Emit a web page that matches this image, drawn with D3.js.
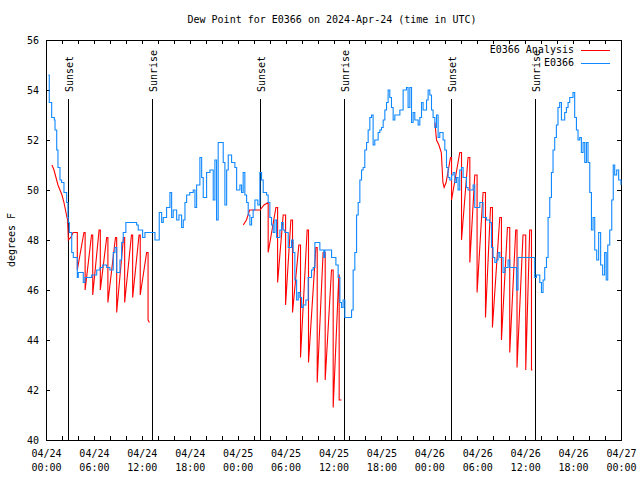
<!DOCTYPE html>
<html><head><meta charset="utf-8">
<script src="https://cdn.jsdelivr.net/npm/d3@7"></script>
<style>
body{margin:0;background:#fff;}
svg{display:block;}
text{font-family:"DejaVu Sans Mono","Liberation Mono",monospace;font-size:10px;fill:#000;}
</style></head>
<body>
<svg id="chart" width="640" height="480"></svg>
<script>
// ---- data (hours since 2024-04-24 00:00 UTC) ----
const titleText = "Dew Point for E0366 on 2024-Apr-24 (time in UTC)";
const yLabel = "degrees F";
const seriesNames = ["E0366 Analysis", "E0366"];
const yTicks = [40,42,44,46,48,50,52,54,56];
const xTickHours = [0,6,12,18,24,30,36,42,48,54,60,66,72];
const xTickDates = ["04/24","04/24","04/24","04/24","04/25","04/25","04/25","04/25","04/26","04/26","04/26","04/26","04/27"];
const xTickTimes = ["00:00","06:00","12:00","18:00","00:00","06:00","12:00","18:00","00:00","06:00","12:00","18:00","00:00"];
const sunHours = [2.78, 13.3, 26.8, 37.3, 50.73, 61.24];
const sunLabels = ["Sunset","Sunrise","Sunset","Sunrise","Sunset","Sunrise"];

const blueHours = [0.29,0.41,0.71,1.04,1.13,1.34,1.5,1.75,1.96,2.25,2.59,2.75,2.79,2.92,3.22,3.42,3.92,4.04,4.67,4.88,5.51,5.72,6.35,6.76,7.1,7.6,8.0,8.42,8.64,8.85,9.26,9.47,9.67,10.0,11.35,11.55,12.1,12.39,13.43,13.64,14.05,14.18,14.48,14.68,15.1,15.52,15.73,15.93,16.36,16.65,16.98,17.19,17.4,17.61,18.0,18.44,18.65,18.86,19.27,19.49,19.69,20.11,20.53,20.94,21.15,21.36,21.56,21.99,22.19,22.4,22.62,22.82,23.24,23.65,23.87,24.28,24.49,24.69,24.9,25.12,25.32,25.53,25.74,25.94,26.16,26.53,26.78,26.99,27.2,27.62,27.82,28.03,28.24,28.45,28.66,28.87,29.29,29.5,29.7,29.91,30.33,30.75,30.95,31.16,31.38,31.58,31.79,32.0,32.2,32.54,32.83,33.25,33.45,33.67,34.08,34.29,34.79,34.92,35.54,35.76,36.3,36.58,36.8,37.0,37.2,37.42,38.05,38.26,38.46,38.67,38.89,39.09,39.3,39.51,39.71,39.92,40.14,40.34,40.55,40.76,40.96,41.17,41.59,41.8,42.01,42.22,42.43,42.64,42.84,43.05,43.26,43.47,43.68,44.31,44.72,45.14,45.34,45.56,45.77,45.97,46.18,46.6,46.81,47.02,47.22,47.65,47.85,48.06,48.27,48.47,48.69,48.9,49.1,49.31,49.72,49.94,50.15,50.35,50.56,50.78,50.98,51.19,51.4,51.6,51.81,52.03,52.23,52.65,52.85,53.28,53.48,53.69,54.1,54.32,54.73,55.16,55.57,55.78,55.98,56.2,56.41,56.61,56.82,57.23,57.45,57.86,58.07,58.7,58.91,59.11,61.2,61.41,61.83,62.04,62.24,62.45,62.67,62.87,63.08,63.29,63.49,63.7,63.91,64.11,64.32,64.54,64.95,65.16,65.37,65.58,65.79,65.99,66.2,66.42,66.62,66.83,67.04,67.25,67.46,67.67,67.87,68.09,68.3,68.5,68.71,68.96,69.2,69.45,69.7,69.95,70.15,70.34,70.59,70.84,71.03,71.21,71.46,71.71,72.0];
const blueValues = [54.6,53.5,52.9,52.8,52.4,51.6,50.9,50.4,50.3,49.9,49.5,48.9,48.7,48.3,47.5,47.3,46.5,46.7,46.3,46.5,46.5,46.6,46.8,46.9,47.0,46.9,46.8,47.5,47.7,46.7,47.2,47.9,48.3,48.7,48.6,48.4,48.1,48.3,48.3,48.0,48.0,49.1,48.7,48.9,49.3,49.9,48.9,49.2,48.8,49.0,48.5,48.8,49.5,49.8,49.9,50.0,49.3,50.2,51.3,50.5,49.7,50.7,50.8,49.6,51.2,48.8,51.9,51.9,51.1,49.4,50.8,51.4,51.1,50.9,50.0,50.2,49.9,50.7,49.8,49.5,49.0,48.6,48.9,49.2,49.6,49.4,50.7,50.4,49.9,49.8,49.5,48.9,48.6,48.3,48.8,48.1,48.4,48.7,48.4,48.3,47.7,48.0,47.5,46.4,45.6,45.9,45.7,45.3,45.4,45.6,46.5,46.8,46.9,47.9,47.9,47.6,47.3,47.6,47.6,47.3,47.0,46.5,45.5,45.3,45.6,44.9,44.9,45.2,46.8,47.5,49.0,49.5,50.4,50.8,50.9,51.6,51.9,52.4,52.9,53.0,51.8,52.0,52.3,52.4,52.5,52.8,53.2,53.5,54.0,53.7,53.3,52.8,53.0,53.2,54.0,54.1,53.3,54.1,52.7,53.1,52.8,52.6,52.9,53.5,53.2,53.6,54.0,53.8,53.2,52.9,52.5,53.0,52.1,52.3,52.0,51.6,50.9,50.5,50.4,50.6,50.7,50.3,50.5,50.0,50.8,50.9,50.5,50.1,50.0,50.0,50.2,49.3,49.3,49.5,48.9,48.8,48.7,47.7,47.3,47.1,47.2,47.5,47.3,46.7,46.9,47.2,46.9,46.9,46.0,47.3,46.5,46.6,46.3,45.9,46.4,46.9,47.3,48.9,49.7,50.7,51.6,52.1,52.6,53.3,53.5,52.8,53.1,53.3,53.5,53.7,53.7,53.9,52.9,52.4,52.0,52.1,51.5,51.9,51.1,51.9,51.1,49.9,48.4,48.9,47.6,47.2,48.3,47.0,46.6,47.5,46.4,47.8,48.4,49.6,51.0,50.6,50.8,50.4,50.2];

// red analysis: null marks a gap between segments
const redHours = [0.75,1.0,1.25,1.5,1.75,2.0,2.25,2.5,2.7,2.8,3.1,3.4,3.92,
 3.92,4.75,4.9, 4.9,5.7,5.85, 5.85,6.65,6.8, 6.8,7.6,7.75, 7.75,8.7,8.85, 8.85,9.7,9.85, 9.85,10.7,10.85, 10.85,11.65,11.8, 11.8,12.6,12.78, 12.78,12.95,
 null,
 24.7,25.1,25.5,26.8,27.3,27.82, 27.82,28.79,29.0, 29.0,29.7,30.0, 30.0,30.66,30.87, 30.87,31.66,31.87, 31.87,32.7,32.87, 32.87,33.79,33.96, 33.96,34.7,34.96, 34.96,35.75,35.96, 35.96,36.67,36.71, 36.71,37.0,
 null,
 48.7,48.9,49.2,49.5,49.7,49.85,50.1,50.65,50.78, 50.78,51.81,52.03, 52.03,52.85,53.07, 53.07,53.69,53.98, 53.98,54.73,55.03, 55.03,55.66,55.9, 55.9,56.82,57.03, 57.03,57.78,58.07, 58.07,58.82,58.98, 58.98,59.73,60.07, 60.07,60.57,60.79, 60.79,60.9];
const redValues = [51.0,50.8,50.5,50.2,50.0,49.8,49.5,49.1,48.8,48.0,48.1,48.3,48.3,
 46.8,48.3,48.3, 46.0,48.2,48.2, 45.8,48.4,48.4, 46.0,48.1,48.1, 45.5,48.1,48.1, 45.1,48.1,48.1, 45.5,48.2,48.2, 45.7,48.2,48.2, 45.8,47.5,47.5, 44.8,44.7,
 null,
 48.6,48.8,49.2,49.2,49.4,49.5, 47.5,49.3,49.3, 46.3,49.0,49.0, 45.4,48.8,48.8, 45.1,47.8,47.8, 43.3,48.4,48.4, 43.1,47.7,47.7, 42.3,47.5,47.5, 42.4,46.8,46.8, 41.3,46.6,46.6, 41.6,41.6,
 null,
 52.7,52.0,51.8,51.5,50.3,50.1,50.3,51.3,51.3, 49.6,51.5,51.5, 48.0,51.3,51.3, 47.1,50.6,50.6, 45.9,49.9,49.9, 44.9,49.3,49.3, 44.5,48.9,48.9, 44.0,48.5,48.5, 43.5,48.4,48.4, 42.9,48.2,48.2, 42.8,48.4,48.4, 42.8,42.8];

// ---- drawing ----
const red = "#ff0000", blue = "#1088ff";
const svg = d3.select("#chart");
const L = 46, R = 621, T = 40, B = 440;
const t0 = Date.UTC(2024, 3, 24);
const toDate = h => new Date(t0 + h * 3600000);
const x = d3.scaleUtc().domain([toDate(0), toDate(72)]).range([L, R]);
const y = d3.scaleLinear().domain([40, 56]).range([B, T]);

const minorTicks = d3.utcHour.every(2).range(toDate(0), toDate(72.01));

function styleAxis(g){
  g.select(".domain").remove();
  g.selectAll(".tick line").attr("stroke","#000").attr("shape-rendering","crispEdges");
}
// bottom
const gb = svg.append("g").attr("transform",`translate(0,${B})`)
  .call(d3.axisBottom(x).tickValues(minorTicks).tickSizeInner(-4).tickSizeOuter(0).tickFormat(""));
styleAxis(gb);
const gbl = svg.append("g").attr("transform",`translate(0,${B})`)
  .call(d3.axisBottom(x).tickValues(xTickHours.map(toDate)).tickSize(0).tickFormat((d,i)=>i));
gbl.select(".domain").remove();
gbl.selectAll(".tick text").each(function(d,i){
  const t = d3.select(this); t.text(null).attr("y",null).attr("dy",null).attr("text-anchor","middle");
  t.append("tspan").attr("x",0).attr("y",17).text(xTickDates[i]);
  t.append("tspan").attr("x",0).attr("y",31).text(xTickTimes[i]);
});
// top
const gt = svg.append("g").attr("transform",`translate(0,${T})`)
  .call(d3.axisTop(x).tickValues(minorTicks).tickSizeInner(-4).tickSizeOuter(0).tickFormat(""));
styleAxis(gt);
// left
const gl = svg.append("g").attr("transform",`translate(${L},0)`)
  .call(d3.axisLeft(y).tickValues(yTicks).tickSizeInner(-4).tickSizeOuter(0).tickPadding(7).tickFormat(d3.format("d")));
styleAxis(gl);
gl.selectAll(".tick text").attr("x",-7).attr("dy","0.35em").attr("text-anchor","end");
// right
const gr = svg.append("g").attr("transform",`translate(${R},0)`)
  .call(d3.axisRight(y).tickValues(yTicks).tickSizeInner(-4).tickSizeOuter(0).tickFormat(""));
styleAxis(gr);

svg.selectAll("text").style("font-family",'"DejaVu Sans Mono","Liberation Mono",monospace').style("font-size","10px");

// border
svg.append("rect").attr("x",L+0.5).attr("y",T+0.5).attr("width",R-L).attr("height",B-T)
  .attr("fill","none").attr("stroke","#000").attr("stroke-width",1).attr("shape-rendering","crispEdges");

// sun lines
const sg = svg.append("g");
sunHours.forEach((h,i)=>{
  const sx = Math.round(x(toDate(h))) + 0.5;
  sg.append("line").attr("x1",sx).attr("x2",sx).attr("y1",99).attr("y2",B)
    .attr("stroke","#000").attr("stroke-width",1).attr("shape-rendering","crispEdges");
  sg.append("text").attr("transform",`translate(${sx+4},92) rotate(-90)`)
    .attr("text-anchor","start").text(sunLabels[i]);
});

// series
const redPts = redHours.map((h,i)=>[h, redValues[i]]);
const bluePts = blueHours.map((h,i)=>[h, blueValues[i]]);
const redLine = d3.line().defined(d=>d[0]!==null && d[1]!==null)
  .x(d=>x(toDate(d[0]))).y(d=>y(d[1]));
const blueLine = d3.line().x(d=>x(toDate(d[0]))).y(d=>y(d[1])).curve(d3.curveStepAfter);

svg.append("clipPath").attr("id","pc").append("rect").attr("x",L).attr("y",T).attr("width",R-L+1).attr("height",B-T);
svg.append("path").datum(redPts).attr("d",redLine).attr("fill","none").attr("stroke",red).attr("stroke-width",1.1).attr("clip-path","url(#pc)");
svg.append("path").datum(bluePts).attr("d",blueLine).attr("fill","none").attr("stroke",blue).attr("stroke-width",1.1).attr("clip-path","url(#pc)");

// legend
const legColors = [red, blue];
const legY = [49.5, 62.5];
seriesNames.forEach((n,i)=>{
  svg.append("text").attr("x",574).attr("y",legY[i]).attr("dy","0.35em").attr("text-anchor","end").text(n);
  svg.append("line").attr("x1",581).attr("x2",610).attr("y1",Math.round(legY[i])+0.5).attr("y2",Math.round(legY[i])+0.5)
    .attr("stroke",legColors[i]).attr("stroke-width",1).attr("shape-rendering","crispEdges");
});

// title and y label
svg.append("text").attr("x",332).attr("y",23).attr("text-anchor","middle").text(titleText);
svg.append("text").attr("transform","translate(15,240) rotate(-90)").attr("text-anchor","middle").text(yLabel);
</script>
</body></html>
